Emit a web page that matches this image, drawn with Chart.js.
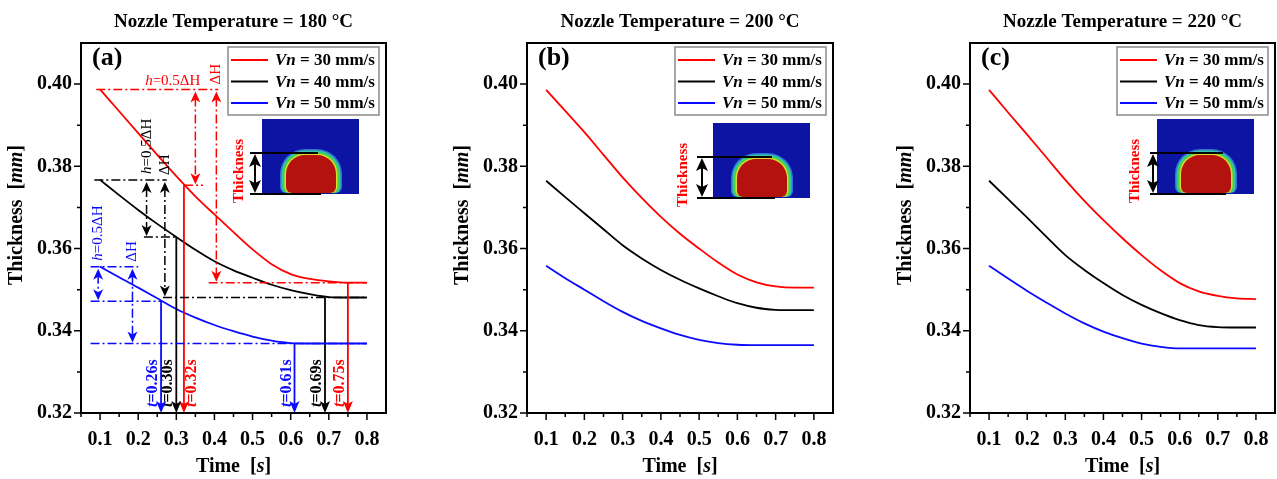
<!DOCTYPE html>
<html>
<head>
<meta charset="utf-8">
<script src="https://cdn.jsdelivr.net/npm/chart.js@4.4.1/dist/chart.umd.min.js"></script>
<style>
  body { margin: 0; background: #fff; width: 1277px; height: 479px; overflow: hidden; position: relative; }
  canvas { position: absolute; top: 0; }
</style>
</head>
<body>
<canvas id="ca" width="430" height="479" style="left:0px"></canvas>
<canvas id="cb" width="425" height="479" style="left:430px"></canvas>
<canvas id="cc" width="422" height="479" style="left:855px"></canvas>
<script>
const times  = [0.10, 0.15, 0.20, 0.25, 0.30, 0.35, 0.40, 0.45, 0.50, 0.55, 0.60, 0.65, 0.70, 0.75, 0.80];
const speeds = [30, 40, 50];
const temps  = [180, 200, 220];
const xTicks = [0.1, 0.2, 0.3, 0.4, 0.5, 0.6, 0.7, 0.8];
const yTicks = [0.32, 0.34, 0.36, 0.38, 0.40];

const t180v30 = [0.3987, 0.3934, 0.3881, 0.3828, 0.3776, 0.3727, 0.3683, 0.3640, 0.3598, 0.3562, 0.3538, 0.3526, 0.3520, 0.3517, 0.3517];
const t180v40 = [0.3767, 0.3730, 0.3694, 0.3660, 0.3628, 0.3597, 0.3569, 0.3547, 0.3529, 0.3512, 0.3499, 0.3489, 0.3482, 0.3481, 0.3481];
const t180v50 = [0.3556, 0.3530, 0.3505, 0.3479, 0.3453, 0.3432, 0.3414, 0.3399, 0.3386, 0.3376, 0.3370, 0.3369, 0.3369, 0.3369, 0.3369];

const t200v30 = [0.3986, 0.3935, 0.3883, 0.3828, 0.3773, 0.3723, 0.3677, 0.3636, 0.3600, 0.3566, 0.3537, 0.3518, 0.3508, 0.3505, 0.3505];
const t200v40 = [0.3765, 0.3725, 0.3686, 0.3647, 0.3608, 0.3576, 0.3548, 0.3524, 0.3503, 0.3484, 0.3467, 0.3456, 0.3451, 0.3450, 0.3450];
const t200v50 = [0.3558, 0.3528, 0.3500, 0.3472, 0.3446, 0.3424, 0.3406, 0.3390, 0.3378, 0.3370, 0.3366, 0.3365, 0.3365, 0.3365, 0.3365];

const t220v30 = [0.3986, 0.3931, 0.3877, 0.3822, 0.3767, 0.3716, 0.3669, 0.3625, 0.3584, 0.3547, 0.3516, 0.3496, 0.3485, 0.3479, 0.3477];
const t220v40 = [0.3765, 0.3720, 0.3675, 0.3629, 0.3584, 0.3548, 0.3516, 0.3487, 0.3463, 0.3443, 0.3426, 0.3414, 0.3409, 0.3408, 0.3408];
const t220v50 = [0.3558, 0.3527, 0.3497, 0.3469, 0.3442, 0.3418, 0.3398, 0.3382, 0.3369, 0.3361, 0.3357, 0.3357, 0.3357, 0.3357, 0.3357];

// panel (a) markers: time where h = 0.5ΔH is reached, and time of steady thickness
const halfT   = [0.32, 0.30, 0.26];
const halfH   = [0.3754, 0.3628, 0.3472];
const steadyT = [0.75, 0.69, 0.61];

const colors = ["#ff0000", "#000000", "#0a0aff"];
const SERIF = "'Liberation Serif', 'Times New Roman', serif";
const DASHDOT = [9, 3, 2, 3];

function rich(ctx, parts, x, y, align) {
  let w = 0;
  parts.forEach(p => { ctx.font = p[1]; w += ctx.measureText(p[0]).width; });
  let cx = align === "center" ? x - w / 2 : align === "right" ? x - w : x;
  ctx.textAlign = "left";
  parts.forEach(p => { ctx.font = p[1]; ctx.fillText(p[0], cx, y); cx += ctx.measureText(p[0]).width; });
}

function rotText(ctx, parts, x, y, align, color) {
  ctx.save();
  ctx.translate(x, y);
  ctx.rotate(-Math.PI / 2);
  ctx.fillStyle = color;
  ctx.textBaseline = "middle";
  rich(ctx, parts, 0, 0, align);
  ctx.restore();
}

function head(ctx, x, y, dir, color, w = 5, l = 11) {
  ctx.fillStyle = color;
  ctx.beginPath();
  ctx.moveTo(x, y);
  ctx.lineTo(x - w, y - dir * l);
  ctx.lineTo(x, y - dir * (l - 3));
  ctx.lineTo(x + w, y - dir * l);
  ctx.closePath();
  ctx.fill();
}

function drawInset(ctx, a, ins) {
  const rx = a.right + ins.dx, ry = a.top + ins.dy;
  ctx.fillStyle = "#0d14a3";
  ctx.fillRect(rx, ry, 97, 75);
  const bx = rx + 21, by = ry + 33, bw = 56, bh = 41;
  [[3, "rgba(80,190,255,0.55)"], [1.5, "#36c8a0"], [0, "#3cd24a"], [-1.5, "#d8dc2a"], [-3, "#b3120e"]].forEach(([p, c]) => {
    ctx.fillStyle = c;
    ctx.beginPath();
    ctx.roundRect(bx - p, by - p, bw + 2 * p, bh + p, [22 + p, 22 + p, 6, 6]);
    ctx.fill();
  });
  ctx.strokeStyle = "#000"; ctx.lineWidth = 2;
  ctx.beginPath();
  ctx.moveTo(rx + ins.l, ry + 34); ctx.lineTo(rx + ins.r, ry + 34);
  ctx.moveTo(rx + ins.l, ry + 75); ctx.lineTo(rx + ins.r + 3, ry + 75);
  ctx.stroke();
  const ax = rx + ins.ax;
  ctx.beginPath(); ctx.moveTo(ax, ry + 44); ctx.lineTo(ax, ry + 66); ctx.stroke();
  head(ctx, ax, ry + 35, -1, "#000", 6, 13);
  head(ctx, ax, ry + 74, 1, "#000", 6, 13);
  rotText(ctx, [["Thickness", `bold 15px ${SERIF}`]], rx + ins.tx, ry + 52, "center", "#ff0000");
}

function drawNotes(chart, series) {
  const { ctx, scales: { x, y } } = chart;
  const X = v => x.getPixelForValue(v), Y = v => y.getPixelForValue(v);
  const base = Y(0.32);
  const topSpan  = [[0.09, 0.41], [0.085, 0.275], [0.075, 0.20]];
  const halfSpan = [[0.32, 0.37], [0.215, 0.30], [0.075, 0.26]];
  const endSpan  = [[0.385, 0.80], [0.265, 0.80], [0.075, 0.80]];
  const hArrowT  = [0.35, 0.222, 0.095];
  const dArrowT  = [0.405, 0.27, 0.185];
  const side = [1, -1, -1];
  const reg = `15px ${SERIF}`, ital = `italic 15px ${SERIF}`;
  const bold = `bold 16px ${SERIF}`, bi = `italic bold 16px ${SERIF}`;
  ctx.save();
  series.forEach((s, i) => {
    const c = colors[i], top = s[0], end = s[s.length - 1], half = halfH[i];
    ctx.strokeStyle = c; ctx.lineWidth = 1.5;
    ctx.setLineDash(DASHDOT);
    ctx.beginPath();
    [[topSpan[i], top], [halfSpan[i], half], [endSpan[i], end]].forEach(([sp, v]) => {
      ctx.moveTo(X(sp[0]), Y(v)); ctx.lineTo(X(sp[1]), Y(v));
    });
    ctx.moveTo(X(hArrowT[i]), Y(top) + 8); ctx.lineTo(X(hArrowT[i]), Y(half) - 8);
    ctx.moveTo(X(dArrowT[i]), Y(top) + 8); ctx.lineTo(X(dArrowT[i]), Y(end) - 8);
    ctx.stroke();
    ctx.setLineDash([]);
    [hArrowT[i], dArrowT[i]].forEach((t, k) => {
      head(ctx, X(t), Y(top) + 2, -1, c);
      head(ctx, X(t), Y(k ? end : half) - 1, 1, c);
    });
    ctx.lineWidth = 1.8;
    ctx.beginPath();
    ctx.moveTo(X(halfT[i]), Y(half)); ctx.lineTo(X(halfT[i]), base - 6);
    ctx.moveTo(X(steadyT[i]), Y(end)); ctx.lineTo(X(steadyT[i]), base - 6);
    ctx.stroke();
    head(ctx, X(halfT[i]), base, 1, c, 5, 12);
    head(ctx, X(steadyT[i]), base, 1, c, 5, 12);
    rotText(ctx, [["t", bi], [`=${halfT[i].toFixed(2)}s`, bold]], X(halfT[i]) + side[i] * 8, base - 6, "left", c);
    rotText(ctx, [["t", bi], [`=${steadyT[i].toFixed(2)}s`, bold]], X(steadyT[i]) - 8, base - 6, "left", c);
    const hParts = [["h", ital], ["=0.5ΔH", reg]];
    if (i === 0) {
      ctx.fillStyle = c; ctx.textBaseline = "alphabetic";
      rich(ctx, hParts, X(0.363), Y(top) - 4, "right");
    } else {
      rotText(ctx, hParts, X(hArrowT[i]), Y(top) - 6, "left", c);
    }
    rotText(ctx, [["ΔH", reg]], X(dArrowT[i]), Y(top) - 5, "left", c);
  });
  ctx.restore();
}

function decor(p) {
  return {
    id: "decor" + p.tag,
    afterDatasetsDraw(chart) {
      if (p.notes) drawNotes(chart, p.series);
    },
    afterDraw(chart) {
      const { ctx, chartArea: a, scales: { x, y } } = chart;
      ctx.save();
      ctx.strokeStyle = "#000"; ctx.lineWidth = 1.5;
      ctx.beginPath();
      for (let k = 32; k <= 40; k++) {
        const py = y.getPixelForValue(k / 100);
        ctx.moveTo(a.left, py); ctx.lineTo(a.left - (k % 2 ? 4 : 7), py);
      }
      for (let k = 1; k <= 16; k++) {
        const px = x.getPixelForValue(k / 20);
        ctx.moveTo(px, a.bottom); ctx.lineTo(px, a.bottom + (k % 2 ? 4 : 7));
      }
      ctx.stroke();
      ctx.lineWidth = 2;
      ctx.strokeRect(a.left, a.top, a.right - a.left, a.bottom - a.top);

      const cx = (a.left + a.right) / 2;
      ctx.fillStyle = "#000"; ctx.textBaseline = "middle";
      rich(ctx, [[`Nozzle Temperature = ${p.temp} °C`, `bold 19px ${SERIF}`]], cx, 22, "center");
      rich(ctx, [["Time  [", `bold 20px ${SERIF}`], ["s", `italic bold 20px ${SERIF}`], ["]", `bold 20px ${SERIF}`]], cx, 467, "center");
      rotText(ctx, [["Thickness  [", `bold 20px ${SERIF}`], ["mm", `italic bold 20px ${SERIF}`], ["]", `bold 20px ${SERIF}`]], a.left - 64, 215, "center", "#000");
      rich(ctx, [[p.tag, `bold 26px ${SERIF}`]], a.left + 11, a.top + 15, "left");

      const lx = a.right - 158, ly = a.top + 4;
      ctx.fillStyle = "#fff"; ctx.fillRect(lx, ly, 151, 68);
      ctx.strokeStyle = "#8a8a8a"; ctx.lineWidth = 1.5; ctx.strokeRect(lx, ly, 151, 68);
      speeds.forEach((v, i) => {
        const ry = ly + 13 + i * 21.5;
        ctx.strokeStyle = colors[i]; ctx.lineWidth = 2;
        ctx.beginPath(); ctx.moveTo(lx + 3, ry); ctx.lineTo(lx + 40, ry); ctx.stroke();
        ctx.fillStyle = "#000"; ctx.textBaseline = "middle";
        rich(ctx, [["Vn", `italic bold 17px ${SERIF}`], [` = ${v} mm/s`, `bold 17px ${SERIF}`]], lx + 47, ry + 1, "left");
      });
      drawInset(ctx, a, p.inset);
      ctx.restore();
    }
  };
}

function makePanel(p) {
  return new Chart(document.getElementById(p.id), {
    type: "line",
    data: {
      datasets: p.series.map((s, i) => ({
        label: `Vn = ${speeds[i]} mm/s`,
        data: times.map((t, k) => ({ x: t, y: s[k] })),
        borderColor: colors[i], borderWidth: 1.8, pointRadius: 0,
        cubicInterpolationMode: "monotone", fill: false
      }))
    },
    options: {
      responsive: false, animation: false,
      layout: { padding: { left: p.pad[0], right: p.pad[1], top: 43, bottom: 32 } },
      plugins: { legend: { display: false }, tooltip: { enabled: false }, title: { display: false } },
      scales: {
        x: {
          type: "linear", min: 0.05, max: 0.85,
          afterBuildTicks: s => { s.ticks = xTicks.map(v => ({ value: v })); },
          afterFit: s => { s.height = 34; s.paddingLeft = 0; s.paddingRight = 0; },
          grid: { display: false, drawTicks: false }, border: { display: false },
          ticks: { font: { family: SERIF, size: 20, weight: "bold" }, color: "#000", padding: 15, maxRotation: 0, autoSkip: false, callback: v => v.toFixed(1) }
        },
        y: {
          type: "linear", min: 0.32, max: 0.41,
          afterBuildTicks: s => { s.ticks = yTicks.map(v => ({ value: v })); },
          afterFit: s => { s.width = 50; s.paddingTop = 0; s.paddingBottom = 0; },
          grid: { display: false, drawTicks: false }, border: { display: false },
          ticks: { font: { family: SERIF, size: 20, weight: "bold" }, color: "#000", padding: 9, autoSkip: false, callback: v => v.toFixed(2) }
        }
      }
    },
    plugins: [decor(p)]
  });
}

makePanel({ id: "ca", tag: "(a)", temp: temps[0], series: [t180v30, t180v40, t180v50], pad: [31, 44], notes: true,
  inset: { dx: -124, dy: 76, l: -12, r: 56, ax: -7, tx: -23 } });
makePanel({ id: "cb", tag: "(b)", temp: temps[1], series: [t200v30, t200v40, t200v50], pad: [47, 22],
  inset: { dx: -120, dy: 80, l: -16, r: 59, ax: -11, tx: -30 } });
makePanel({ id: "cc", tag: "(c)", temp: temps[2], series: [t220v30, t220v40, t220v50], pad: [65, 2],
  inset: { dx: -118, dy: 76, l: -7, r: 66, ax: -4, tx: -22 } });
</script>
</body>
</html>
